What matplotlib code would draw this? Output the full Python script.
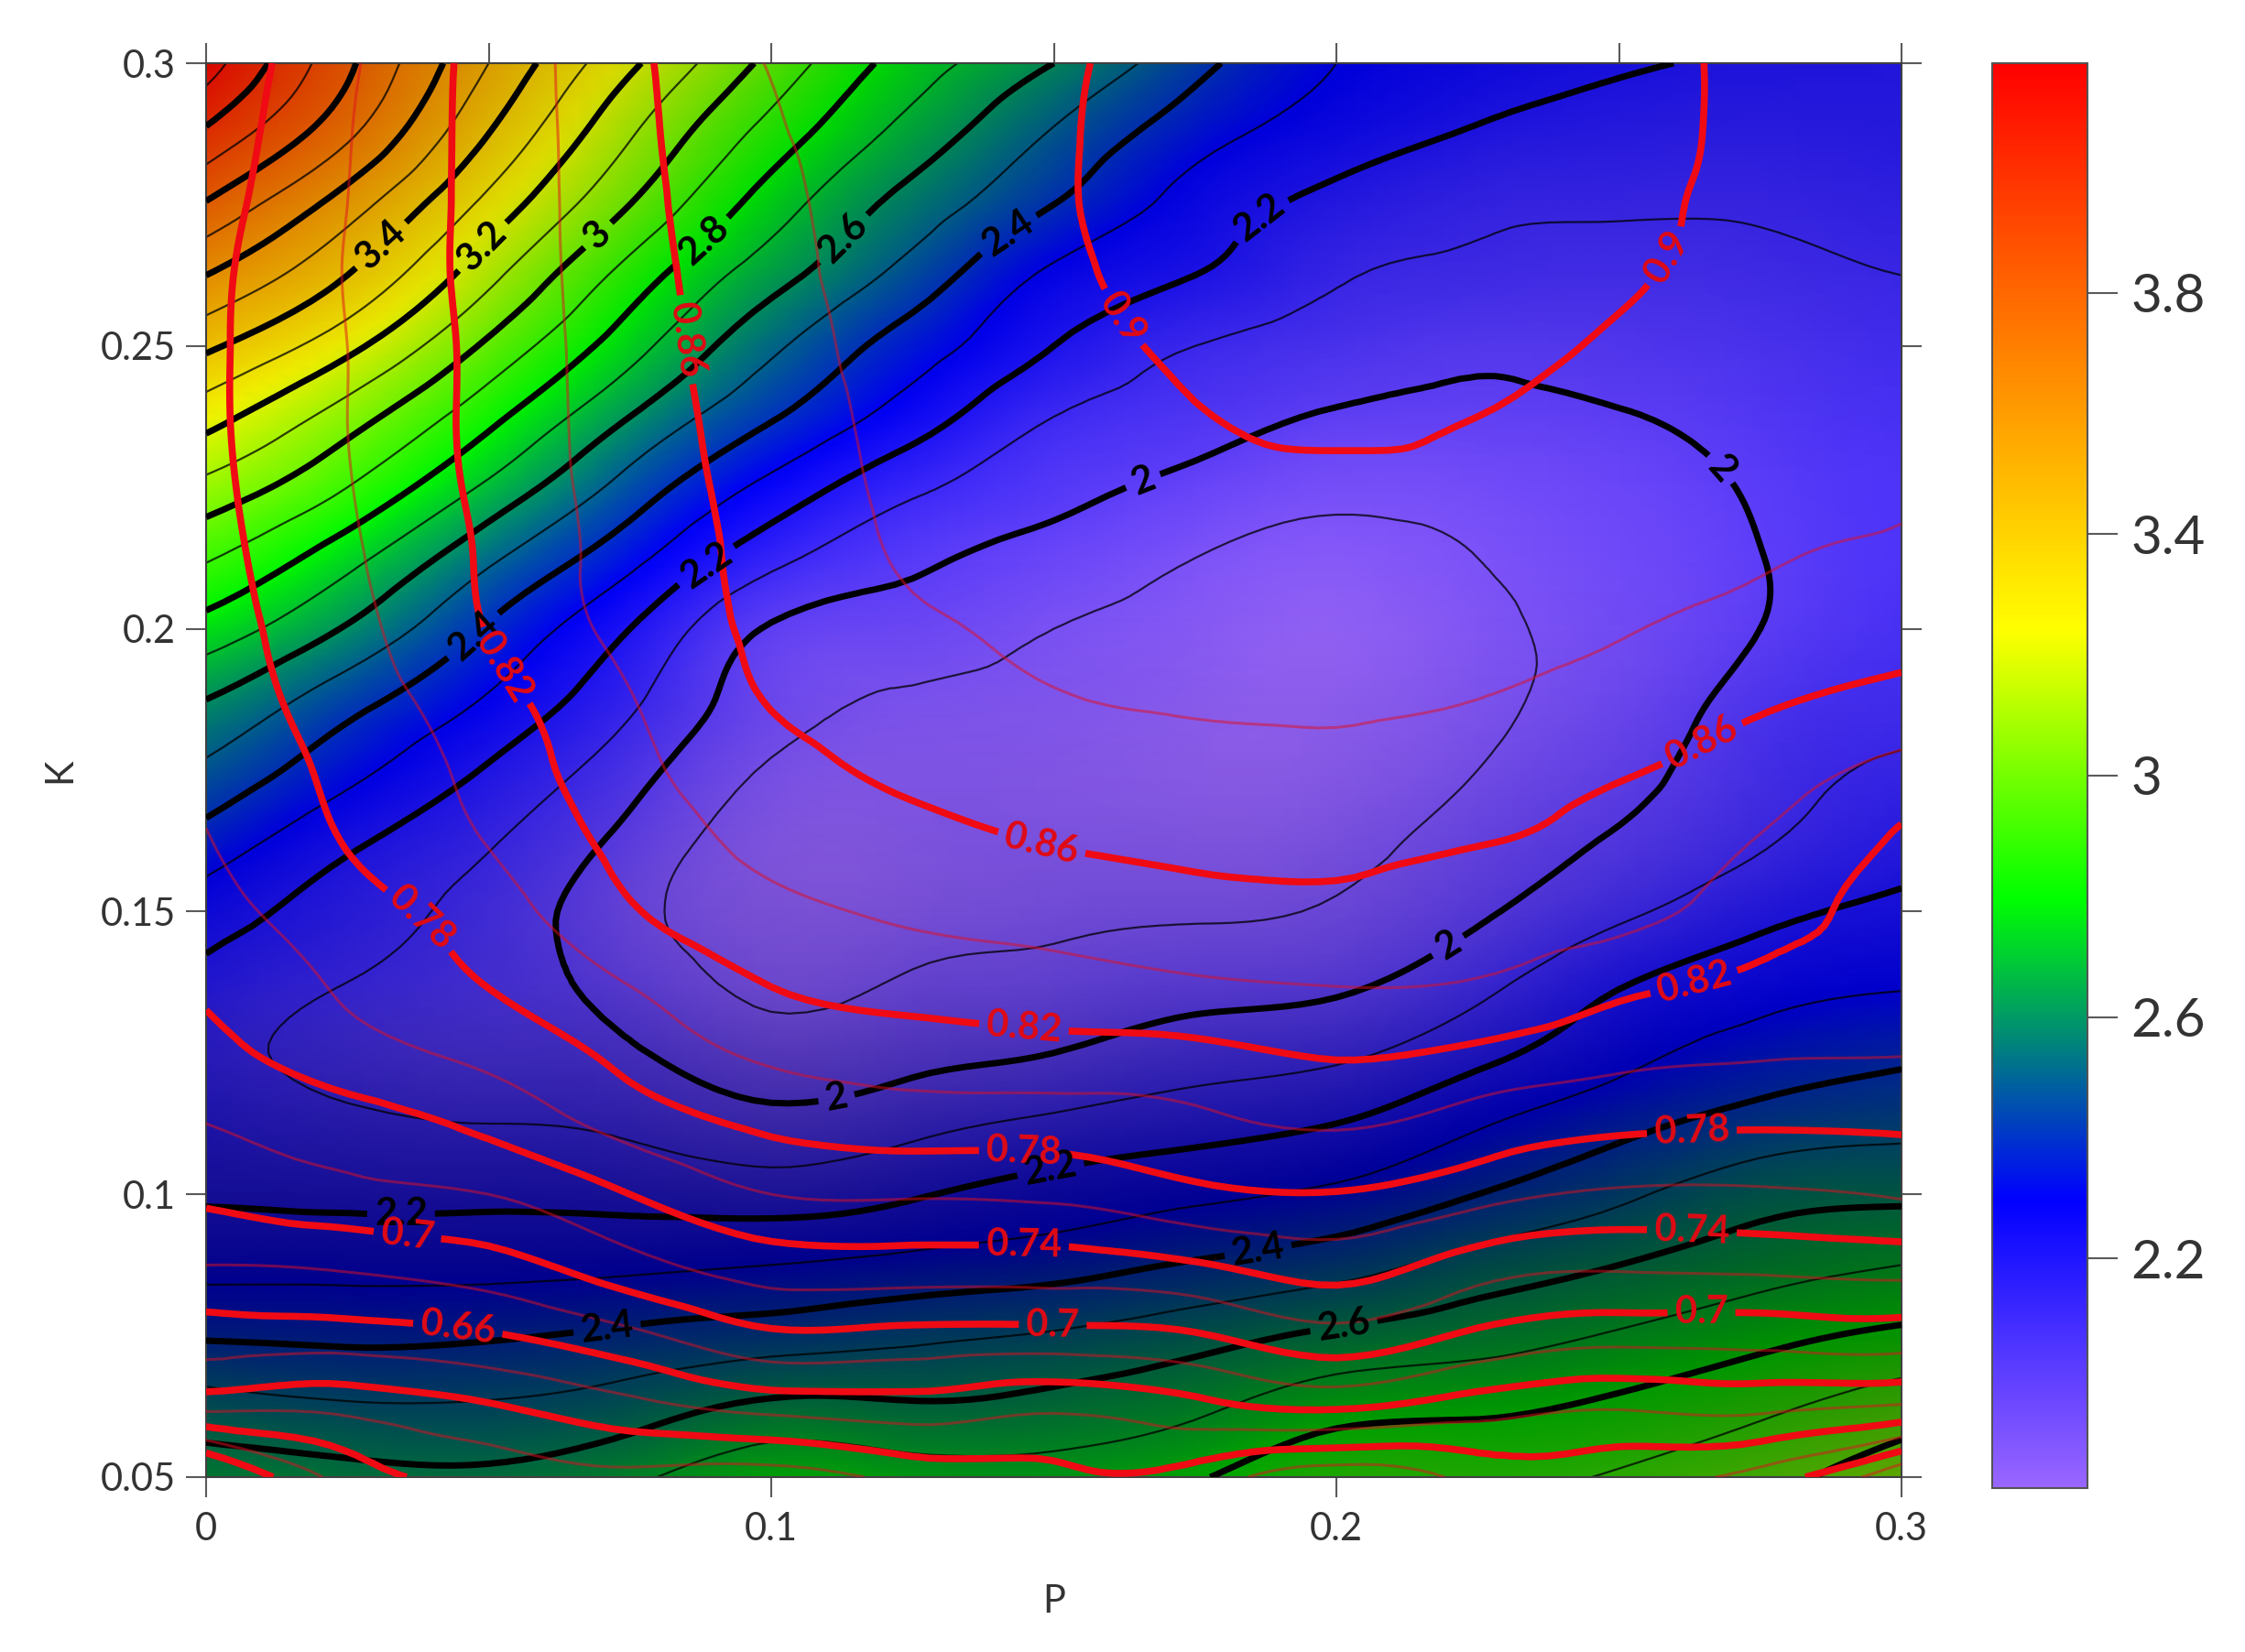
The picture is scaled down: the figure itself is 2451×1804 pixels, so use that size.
import numpy as np
import matplotlib
matplotlib.use('Agg')
import matplotlib.pyplot as plt
import matplotlib.tri as mtri
from matplotlib.colors import LinearSegmentedColormap, Normalize
from matplotlib.cm import ScalarMappable

plt.rcParams['font.family'] = ['Lato', 'DejaVu Sans']

p_values = [0, 0.025, 0.05, 0.075, 0.1, 0.125, 0.15, 0.175, 0.2, 0.225, 0.25, 0.275, 0.3]
k_values = [0.3, 0.2875, 0.275, 0.2625, 0.25, 0.2375, 0.225, 0.2125, 0.2, 0.1875, 0.175,
            0.1625, 0.15, 0.1375, 0.125, 0.1125, 0.1, 0.0875, 0.075, 0.0625, 0.05]

# colour field, one list per P column, K going from 0.3 down to 0.05
z_columns = [
    [4.15, 3.98, 3.79, 3.60, 3.42, 3.24, 3.07, 2.91, 2.76, 2.60, 2.48, 2.36, 2.25, 2.17, 2.13, 2.16, 2.19, 2.27, 2.39, 2.54, 2.65],
    [3.82, 3.72, 3.55, 3.40, 3.23, 3.05, 2.90, 2.735, 2.59, 2.44, 2.33, 2.22, 2.15, 2.10, 2.07, 2.12, 2.18, 2.27, 2.38, 2.51, 2.63],
    [3.50, 3.40, 3.27, 3.13, 2.98, 2.83, 2.68, 2.52, 2.39, 2.29, 2.19, 2.11, 2.06, 2.04, 2.04, 2.10, 2.18, 2.27, 2.39, 2.51, 2.62],
    [3.22, 3.11, 3.00, 2.86, 2.74, 2.60, 2.46, 2.33, 2.20, 2.12, 2.04, 1.97, 1.93, 1.96, 2.01, 2.08, 2.17, 2.28, 2.42, 2.55, 2.68],
    [2.97, 2.86, 2.75, 2.64, 2.52, 2.41, 2.27, 2.13, 1.99, 1.94, 1.89, 1.85, 1.85, 1.88, 1.94, 2.03, 2.15, 2.30, 2.45, 2.62, 2.77],
    [2.75, 2.66, 2.56, 2.46, 2.35, 2.25, 2.12, 2.02, 1.95, 1.89, 1.86, 1.85, 1.86, 1.91, 1.97, 2.07, 2.19, 2.33, 2.48, 2.61, 2.75],
    [2.60, 2.49, 2.40, 2.28, 2.20, 2.10, 2.03, 1.96, 1.90, 1.87, 1.85, 1.86, 1.88, 1.93, 2.00, 2.12, 2.24, 2.36, 2.51, 2.63, 2.74],
    [2.43, 2.34, 2.26, 2.20, 2.10, 2.04, 1.97, 1.90, 1.86, 1.84, 1.83, 1.85, 1.89, 1.96, 2.05, 2.16, 2.28, 2.41, 2.56, 2.68, 2.79],
    [2.30, 2.25, 2.17, 2.11, 2.05, 1.99, 1.92, 1.87, 1.83, 1.83, 1.84, 1.87, 1.91, 1.98, 2.08, 2.20, 2.32, 2.46, 2.62, 2.76, 2.88],
    [2.25, 2.19, 2.12, 2.08, 2.02, 1.98, 1.93, 1.90, 1.88, 1.88, 1.90, 1.94, 1.985, 2.07, 2.17, 2.29, 2.40, 2.54, 2.66, 2.78, 2.88],
    [2.21, 2.16, 2.11, 2.07, 2.03, 1.995, 1.96, 1.94, 1.93, 1.94, 1.97, 2.01, 2.08, 2.19, 2.27, 2.37, 2.48, 2.60, 2.71, 2.82, 2.91],
    [2.19, 2.15, 2.11, 2.08, 2.05, 2.03, 2.01, 1.998, 2.00, 2.035, 2.06, 2.09, 2.17, 2.26, 2.34, 2.44, 2.56, 2.66, 2.77, 2.88, 2.97],
    [2.18, 2.16, 2.13, 2.10, 2.08, 2.06, 2.05, 2.05, 2.06, 2.08, 2.11, 2.16, 2.22, 2.29, 2.38, 2.47, 2.58, 2.70, 2.82, 2.95, 3.05],
]

# red contour field, same layout
r_columns = [
    [0.765, 0.768, 0.772, 0.775, 0.776, 0.776, 0.775, 0.773, 0.771, 0.768, 0.764, 0.759, 0.752, 0.744, 0.732, 0.720, 0.704, 0.680, 0.650, 0.606, 0.50],
    [0.797, 0.799, 0.80, 0.801, 0.80, 0.80, 0.799, 0.797, 0.794, 0.79, 0.785, 0.781, 0.772, 0.763, 0.752, 0.731, 0.714, 0.683, 0.651, 0.606, 0.568],
    [0.827, 0.827, 0.827, 0.827, 0.826, 0.826, 0.825, 0.823, 0.821, 0.813, 0.807, 0.801, 0.791, 0.781, 0.766, 0.745, 0.72, 0.692, 0.658, 0.618, 0.587],
    [0.855, 0.854, 0.853, 0.852, 0.851, 0.85, 0.849, 0.848, 0.846, 0.839, 0.834, 0.827, 0.818, 0.801, 0.786, 0.768, 0.74, 0.713, 0.675, 0.634, 0.595],
    [0.881, 0.878, 0.876, 0.874, 0.872, 0.87, 0.868, 0.866, 0.864, 0.861, 0.853, 0.845, 0.835, 0.821, 0.804, 0.784, 0.76, 0.73, 0.696, 0.647, 0.59],
    [0.889, 0.887, 0.886, 0.887, 0.886, 0.885, 0.884, 0.882, 0.877, 0.871, 0.864, 0.854, 0.843, 0.829, 0.81, 0.79, 0.762, 0.731, 0.694, 0.651, 0.607],
    [0.8965, 0.897, 0.897, 0.895, 0.892, 0.891, 0.889, 0.886, 0.883, 0.879, 0.87, 0.861, 0.848, 0.833, 0.813, 0.79, 0.764, 0.731, 0.693, 0.644, 0.616],
    [0.912, 0.914, 0.914, 0.912, 0.905, 0.899, 0.895, 0.89, 0.886, 0.882, 0.874, 0.865, 0.853, 0.838, 0.815, 0.796, 0.775, 0.738, 0.698, 0.654, 0.612],
    [0.922, 0.922, 0.92, 0.917, 0.91, 0.903, 0.897, 0.892, 0.887, 0.882, 0.876, 0.866, 0.855, 0.841, 0.822, 0.802, 0.779, 0.749, 0.713, 0.663, 0.585],
    [0.915, 0.916, 0.916, 0.913, 0.908, 0.90, 0.896, 0.89, 0.885, 0.88, 0.871, 0.861, 0.85, 0.839, 0.816, 0.792, 0.767, 0.73, 0.696, 0.65, 0.607],
    [0.906, 0.906, 0.905, 0.903, 0.897, 0.893, 0.889, 0.885, 0.881, 0.873, 0.862, 0.853, 0.846, 0.826, 0.806, 0.784, 0.757, 0.723, 0.687, 0.642, 0.607],
    [0.896, 0.896, 0.895, 0.892, 0.889, 0.887, 0.884, 0.881, 0.875, 0.863, 0.85, 0.839, 0.829, 0.816, 0.802, 0.782, 0.757, 0.725, 0.688, 0.645, 0.592],
    [0.886, 0.886, 0.885, 0.884, 0.883, 0.882, 0.881, 0.878, 0.868, 0.854, 0.834, 0.817, 0.813, 0.816, 0.801, 0.783, 0.762, 0.728, 0.69, 0.638, 0.54],
]

# how much the picture darkens the colours, per K row (same order as k_values)
shade = [0.15, 0.14, 0.13, 0.11, 0.08, 0.05, 0.03, 0.03, 0.05, 0.08, 0.11, 0.14, 0.17, 0.2, 0.28,
         0.35, 0.42, 0.45, 0.43, 0.4, 0.35]

black_thick = [2, 2.2, 2.4, 2.6, 2.8, 3, 3.2, 3.4, 3.6, 3.8, 4]
black_thin = [1.9, 2.1, 2.3, 2.5, 2.7, 2.9, 3.1, 3.3, 3.5, 3.7, 3.9, 4.1]
red_thick = [0.54, 0.58, 0.62, 0.66, 0.7, 0.74, 0.78, 0.82, 0.86, 0.9]
red_thin = [0.56, 0.6, 0.64, 0.68, 0.72, 0.76, 0.8, 0.84, 0.88]

black_labels = [(.0307, .2681), (.0489, .2676), (.0695, .2694), (.0885, .2681), (.113, .2688),
                (.1422, .2694), (.1873, .2714), (.1655, .2269), (.2682, .2284), (.219, .1451),
                (.1115, .1173), (.0885, .2112), (.048, .198), (.1496, .1036), (.0345, .096),
                (.186, .091), (.071, .076), (.2013, .0768)]
red_labels = [(.162, .2549), (.258, .266), (.0831, .2509), (.1478, .1619), (.2644, .1803),
              (.051, .1922), (.1447, .1294), (.2634, .137), (.0362, .1467), (.1447, .1074),
              (.2629, .111), (.1447, .091), (.2629, .0935), (.0357, .0935), (.1498, .0768),
              (.2646, .0796), (.0446, .0768)]

cbar_ticks = [2.2, 2.6, 3, 3.4, 3.8]
cbar_labels = ['2.2', '2.6', '3', '3.4', '3.8']
p_ticks = [0, 0.1, 0.2, 0.3]
p_ticklabels = ['0', '0.1', '0.2', '0.3']
p_ticks_top = [0, 0.05, 0.1, 0.15, 0.2, 0.25, 0.3]
k_ticks = [0.05, 0.1, 0.15, 0.2, 0.25, 0.3]
k_ticklabels = ['0.05', '0.1', '0.15', '0.2', '0.25', '0.3']

zmin, zmax = 1.82, 4.18


def pos(v):
    return (v - zmin) / (zmax - zmin)


cmap = LinearSegmentedColormap.from_list('pkmap', [
    (0, (0.6, 0.4, 1)),
    (pos(2.297), (0, 0, 1)),
    (pos(2.797), (0, 1, 0)),
    (pos(3.24), (1, 1, 0)),
    (1, (1, 0, 0)),
], N=512)
norm = Normalize(zmin, zmax)

W, H = 2451, 1804
fig = plt.figure(figsize=(W / 100, H / 100), dpi=100)
ax = fig.add_axes([225 / W, 1 - 1613 / H, (2076 - 225) / W, (1613 - 69) / H])

P, K = np.meshgrid(p_values, k_values)
Z = np.array(z_columns).T
R = np.array(r_columns).T

tri = mtri.Triangulation(P.ravel(), K.ravel())
refiner = mtri.UniformTriRefiner(tri)
tri_z, z_fine = refiner.refine_field(Z.ravel(), subdiv=3)
tri_r, r_fine = refiner.refine_field(R.ravel(), subdiv=3)

ax.tripcolor(tri_z, z_fine, shading='gouraud', cmap=cmap, norm=norm, zorder=1, rasterized=True)

overlay = np.zeros((len(shade), 2, 4))
overlay[:, :, 3] = np.array(shade)[:, None]
ax.imshow(overlay, extent=(0, 0.3, 0.05 - 0.00625, 0.3 + 0.00625), aspect='auto', origin='upper',
          interpolation='bilinear', interpolation_stage='rgba', zorder=1.5)
ax.set_xlim(0, 0.3)
ax.set_ylim(0.05, 0.3)

ax.tricontour(tri_z, z_fine, levels=black_thin, colors='k', linewidths=1.6, alpha=0.75, zorder=2)
cs_black = ax.tricontour(tri_z, z_fine, levels=black_thick, colors='k', linewidths=5, zorder=3)
ax.tricontour(tri_r, r_fine, levels=red_thin, colors='#e01020', linewidths=2.2, alpha=0.5, zorder=4)
cs_red = ax.tricontour(tri_r, r_fine, levels=red_thick, colors='#f00a14', linewidths=5.5, zorder=5)

fmt_black = {v: f'{v:g}' for v in black_thick}
fmt_red = {v: f'{v:g}' for v in red_thick}
lab_black = ax.clabel(cs_black, fmt=fmt_black, manual=black_labels, fontsize=30, colors='k', inline_spacing=8)
lab_red = ax.clabel(cs_red, fmt=fmt_red, manual=red_labels, fontsize=30, colors='#e00a14', inline_spacing=8)
for t in list(lab_black) + list(lab_red):
    t.set_fontweight('bold')
    t.set_zorder(6)

grey = '#5a5a5a'
for s in ax.spines.values():
    s.set_color('#404040')
    s.set_linewidth(1.5)
ax.set_xticks(p_ticks)
ax.set_xticklabels(p_ticklabels)
ax.set_yticks(k_ticks)
ax.set_yticklabels(k_ticklabels)
ax.tick_params(axis='both', direction='out', length=16, width=1.5, color=grey, labelsize=30,
               labelcolor='#333333', pad=8, right=True)
ax.tick_params(axis='x', pad=11)
top = ax.secondary_xaxis('top')
top.set_xticks(p_ticks_top)
top.set_xticklabels([])
top.tick_params(direction='out', length=16, width=1.5, color=grey)
top.spines['top'].set_visible(False)

ax.set_xlabel('P', fontsize=30, color='#333333', labelpad=30)
ax.set_ylabel('K', fontsize=30, color='#333333', labelpad=18)

cax = fig.add_axes([2175 / W, 1 - 1625 / H, (2279 - 2175) / W, (1625 - 69) / H])
cb = fig.colorbar(ScalarMappable(norm=norm, cmap=cmap), cax=cax)
cb.set_ticks(cbar_ticks)
cb.set_ticklabels(cbar_labels)
cb.ax.tick_params(length=24, width=1.5, color=grey, labelsize=42, labelcolor='#333333', pad=10)
cb.outline.set_edgecolor('#555555')
cb.outline.set_linewidth(1.5)

fig.savefig('out.png', dpi=100)
